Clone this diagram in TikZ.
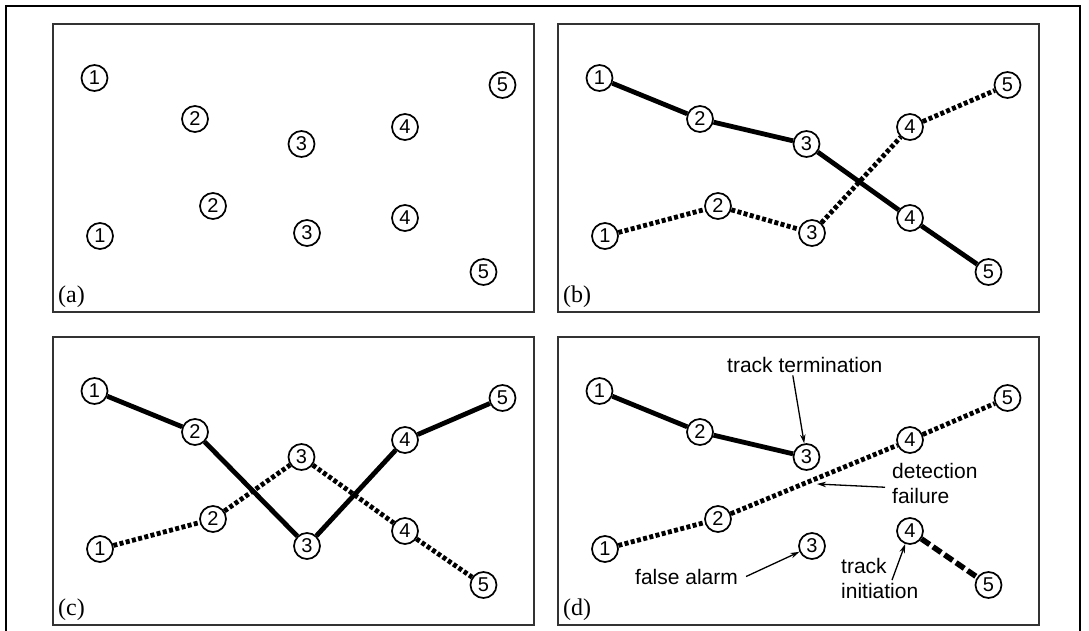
\documentclass[tikz,border=0pt]{standalone}
\usepackage{fontspec}
\setmainfont{Liberation Serif}
\newfontfamily\trackfont{Liberation Sans}
\usetikzlibrary{arrows.meta}
\definecolor{panelgray}{HTML}{333333}

\tikzset{
  panelbox/.style={draw=panelgray, line width=2pt},
  panellbl/.style={anchor=base west, inner sep=0pt, font=\fontsize{24}{24}\selectfont},
  obs/.style={circle, draw, fill=white, line width=1.7pt, minimum size=26pt, inner sep=0pt,
    font=\trackfont\fontsize{20}{20}\selectfont},
  trk/.style={line width=4.8pt},
  trkdot/.style={line width=4.8pt, dash pattern=on 4pt off 2.4pt},
  trkdash/.style={line width=5.5pt, dash pattern=on 10pt off 4pt},
  callout/.style={-{Stealth[length=9pt,width=5.5pt]}, line width=1.3pt},
  note/.style={inner sep=0pt, align=left, font=\trackfont\fontsize{21}{24.5}\selectfont},
}

\begin{document}
\begin{tikzpicture}[x=1pt, y=-1pt]
  \useasboundingbox (0,0) rectangle (1089,631);
  % outer frame, open at the bottom
  \draw[line width=2.2pt] (6,631) -- (6,6) -- (1080,6) -- (1080,631);

  % four panels, same ten observations in each
  \foreach \p/\px/\py in {a/53/24, b/558/24, c/53/337, d/558/337} {
    \begin{scope}[shift={(\px,\py)}]
      \draw[panelbox] (0,0) rectangle (481,288);
      \node[panellbl] (\p-lbl) at (5,278) {(\p)};
      \foreach \k/\x/\y in {1/41.5/54, 2/142/95, 3/248.5/120, 4/352/103, 5/449.5/61}
        \node[obs] (\p-t\k) at (\x,\y) {\k};
      \foreach \k/\x/\y in {1/47/212, 2/160/182, 3/254/209, 4/352/194, 5/430.5/248}
        \node[obs] (\p-b\k) at (\x,\y) {\k};
    \end{scope}
  }

  % (b)
  \foreach \s/\e in {t1/t2, t2/t3, t3/b4, b4/b5}
    \draw[trk] (b-\s) -- (b-\e);
  \foreach \s/\e in {b1/b2, b2/b3, b3/t4, t4/t5}
    \draw[trkdot] (b-\s) -- (b-\e);

  % (c)
  \foreach \s/\e in {t1/t2, t2/b3, b3/t4, t4/t5}
    \draw[trk] (c-\s) -- (c-\e);
  \foreach \s/\e in {b1/b2, b2/t3, t3/b4, b4/b5}
    \draw[trkdot] (c-\s) -- (c-\e);

  % (d)
  \foreach \s/\e in {t1/t2, t2/t3}
    \draw[trk] (d-\s) -- (d-\e);
  \foreach \s/\e in {b1/b2, b2/t4, t4/t5}
    \draw[trkdot] (d-\s) -- (d-\e);
  \draw[trkdash] (d-b4) -- (d-b5);

  \node[note, anchor=base west] (termlbl) at (727,372) {track termination};
  \draw[callout] ([xshift=-12pt, yshift=-3pt]termlbl.south) -- (d-t3);

  \node[note, anchor=base west] (faillbl) at (892,503) {detection\\failure};
  \coordinate (failpt) at (817,484);
  \draw[callout] ([xshift=-7pt, yshift=-4pt]faillbl.west) -- (failpt);

  \node[note, anchor=base west] (alarmlbl) at (635,584) {false alarm};
  \draw[callout] ([xshift=8pt]alarmlbl.east) -- (d-b3);

  \node[note, anchor=base west] (initlbl) at (841,598) {track\\initiation};
  \draw[callout] ([shift={(51,22)}]initlbl.north west) -- (d-b4);
\end{tikzpicture}
\end{document}
